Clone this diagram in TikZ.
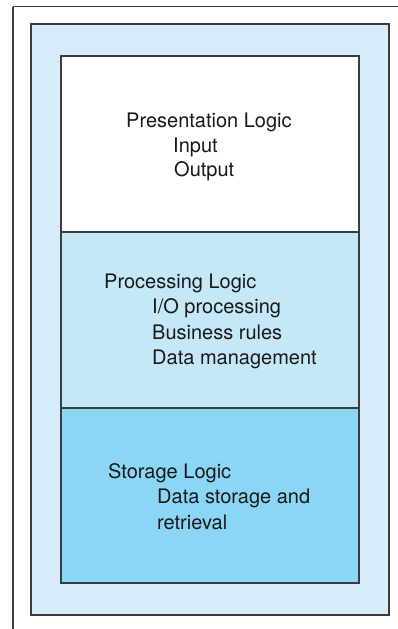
\documentclass[tikz,border=0pt]{standalone}
\usepackage{fontspec}
\setmainfont{TeX Gyre Heros}
\definecolor{outerbg}{RGB}{214,236,250}
\definecolor{procbg}{RGB}{197,232,248}
\definecolor{storbg}{RGB}{139,214,245}
\definecolor{linec}{RGB}{60,60,60}
\begin{document}
\begin{tikzpicture}[x=1pt,y=-1pt,
  frame/.style={draw=linec,line width=1.6pt},
  txt/.style={anchor=base west,inner sep=0pt,font=\fontsize{20}{24}\selectfont,text=black!90}]
\useasboundingbox (0,0) rectangle (398,629);
% outer frame (top and left lines only)
\draw[frame] (13,6.5) -- (398,6.5);
\draw[frame] (13,6.5) -- (13,629);
% light blue box
\fill[outerbg] (31,24) rectangle (389,615);
\draw[frame] (31,24) rectangle (389,615);
% layers
\fill[white] (61,56) rectangle (359,232);
\fill[procbg] (61,232) rectangle (359,408);
\fill[storbg] (61,408) rectangle (359,583);
\draw[frame] (61,56) rectangle (359,583);
\draw[frame] (61,232) -- (359,232);
\draw[frame] (61,408) -- (359,408);
% texts
\node[txt] (pres) at (126,127) {Presentation Logic};
\node[txt] (inp) at (173,152) {Input};
\node[txt] (outp) at (174,176) {Output};
\node[txt] (proc) at (104,288) {Processing Logic};
\node[txt] (io) at (152,313.5) {I/O processing};
\node[txt] (bus) at (152,339) {Business rules};
\node[txt] (dm) at (152,364) {Data management};
\node[txt] (stor) at (108,478) {Storage Logic};
\node[txt] (ds) at (157,503) {Data storage and};
\node[txt] (ret) at (157,529) {retrieval};
\end{tikzpicture}
\end{document}
